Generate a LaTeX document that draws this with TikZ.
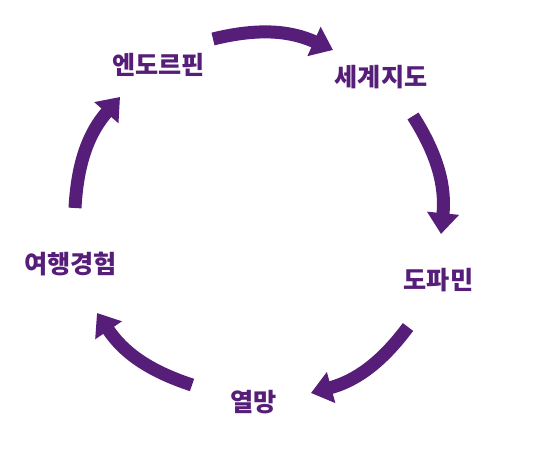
\documentclass[tikz,border=0pt]{standalone}
\usepackage{fontspec}
\newfontfamily\kfont{Noto Sans CJK KR}
\usetikzlibrary{arrows.meta}
\definecolor{cyc}{HTML}{561D79}
\begin{document}
\begin{tikzpicture}[x=0.6pt,y=-0.6pt,
  flow/.style={draw=cyc,line width=7.8pt,-{Triangle[length=12.5pt,width=18.5pt]}},
  word/.style={text=cyc,inner sep=0pt,font=\kfont\bfseries\fontsize{15.1}{18}\selectfont}]
  \useasboundingbox (0,0) rectangle (545,459);
  % the five stages
  \node[word] (endo) at (158.5,65) {엔도르핀};
  \node[word] (map)  at (381,77.5) {세계지도};
  \node[word] (dopa) at (438.5,280) {도파민};
  \node[word] (wish) at (253.5,402) {열망};
  \node[word] (trip) at (70.5,264) {여행경험};
  % arrow ends
  \coordinate (t1) at (213,39);  \coordinate (h1) at (333,50);
  \coordinate (t2) at (413,116); \coordinate (h2) at (441,234);
  \coordinate (t3) at (408,327); \coordinate (h3) at (311,393);
  \coordinate (t4) at (192,385); \coordinate (h4) at (97,313);
  \coordinate (t5) at (75,208);  \coordinate (h5) at (120,97);
  \foreach \i in {1,...,5}
    \draw[flow] (t\i) to[bend left=19] (h\i);
\end{tikzpicture}
\end{document}
